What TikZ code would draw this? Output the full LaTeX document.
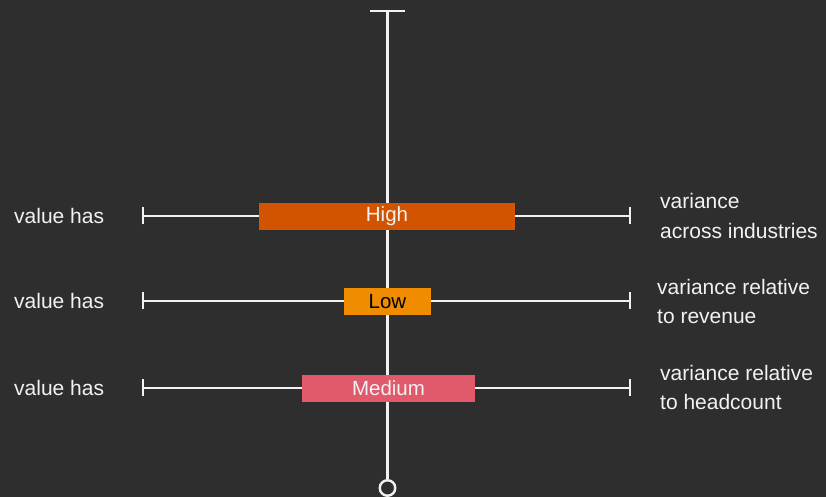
\documentclass[tikz,border=0pt]{standalone}
\usepackage{fontspec}
\setmainfont{Liberation Sans}
\usetikzlibrary{arrows.meta}
\definecolor{bg}{HTML}{2E2E2E}
\definecolor{fg}{HTML}{F2F2F2}
\definecolor{highc}{HTML}{D35400}
\definecolor{lowc}{HTML}{F08C00}
\definecolor{medc}{HTML}{E05A6C}
\tikzset{
  x=1pt, y=1pt,
  lbl/.style={text=fg, font=\fontsize{21}{29.5}\selectfont, inner sep=0pt},
  rlbl/.style={lbl, anchor=west, align=left},
  bar/.style={minimum height=27pt, inner sep=0pt, font=\fontsize{20.5}{24}\selectfont},
  rule/.style={draw=fg, line width=2.4pt},
  ticked/.style={rule, {Bar[width=17pt,line width=2.4pt]}-{Bar[width=17pt,line width=2.4pt]}},
}
\begin{document}
\begin{tikzpicture}
\useasboundingbox[fill=bg] (0,0) rectangle (826,497);
% axis
\coordinate (top) at (387.5,487);
\node[circle, draw=fg, line width=2.4pt, minimum size=15.5pt, inner sep=0pt] (bottom) at (387.5,9) {};
\draw[rule, {Bar[width=35pt,line width=2.4pt]}-] (top) -- (bottom.north);
% horizontal rules
\coordinate (l1) at (142,281); \coordinate (r1) at (631,281);
\coordinate (l2) at (142,196); \coordinate (r2) at (631,196);
\coordinate (l3) at (142,109); \coordinate (r3) at (631,109);
\draw[ticked] (l1) -- (r1);
\draw[ticked] (l2) -- (r2);
\draw[ticked] (l3) -- (r3);
% boxes
\node[bar, fill=highc, text=fg, minimum width=256pt] (high) at (387,280.5) {High};
\node[bar, fill=lowc, text=black, minimum width=87pt] (low) at (387.5,195.5) {Low};
\node[bar, fill=medc, text=fg, minimum width=173pt] (med) at (388.5,108.5) {Medium};
% left labels
\node[lbl, anchor=west] (v1) at (14,281) {value has};
\node[lbl, anchor=west] (v2) at (14,196) {value has};
\node[lbl, anchor=west] (v3) at (14,109) {value has};
% right labels
\node[rlbl] (t1) at (660,281) {variance\\across industries};
\node[rlbl] (t2) at (657,195.5) {variance relative\\to revenue};
\node[rlbl] (t3) at (660,109.5) {variance relative\\to headcount};
\end{tikzpicture}
\end{document}
